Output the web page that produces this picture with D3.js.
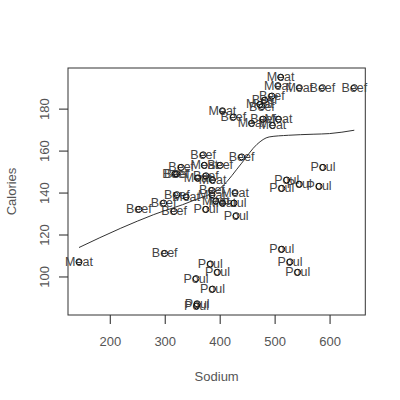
<!DOCTYPE html>
<html><head><meta charset="utf-8">
<script src="https://cdn.jsdelivr.net/npm/d3@7"></script>
<style>body{margin:0;background:#fff}svg{display:block}</style>
</head><body>
<script>
// Hot dog data: type, sodium, calories
const types = ["Beef","Beef","Beef","Beef","Beef","Beef","Beef","Beef","Beef","Beef","Beef","Beef","Beef","Beef","Beef","Beef","Beef","Beef","Beef","Beef",
  "Meat","Meat","Meat","Meat","Meat","Meat","Meat","Meat","Meat","Meat","Meat","Meat","Meat","Meat","Meat","Meat","Meat",
  "Poultry","Poultry","Poultry","Poultry","Poultry","Poultry","Poultry","Poultry","Poultry","Poultry","Poultry","Poultry","Poultry","Poultry","Poultry","Poultry","Poultry"];
const sodium = [495,477,425,322,482,587,370,322,479,375,330,300,386,401,645,440,317,319,298,253,
  458,506,473,545,496,360,387,386,507,393,405,372,144,511,405,428,339,
  430,375,396,383,387,542,359,357,528,513,426,513,358,581,588,522,545];
const calories = [186,181,176,149,184,190,158,139,175,148,152,111,141,153,190,157,131,149,135,132,
  173,191,182,190,172,147,146,139,175,136,179,153,107,195,135,140,138,
  129,132,102,106,94,102,87,99,107,113,135,142,86,143,152,146,144];
// smooth curve
const smoothX = [144,220,280,350,405,440,468,490,525,570,600,645];
const smoothY = [113.8,123,129.5,136,143,154,163,166.5,167.3,167.8,168.1,169.7];
const xTicks = [200,300,400,500,600];
const yTicks = [100,120,140,160,180];

const W=400,H=400, L=68, R=365.3, T=68, B=315;
const svg = d3.select("body").append("svg").attr("width",W).attr("height",H);
const font = "Liberation Sans, Arial, Helvetica, sans-serif";

const pad = (e)=>{const d=(e[1]-e[0])*0.04;return [e[0]-d,e[1]+d];};
const x = d3.scaleLinear().domain(pad(d3.extent(sodium))).range([L,R]);
const y = d3.scaleLinear().domain(pad(d3.extent(calories))).range([B,T]);

// x axis
const gx = svg.append("g").attr("transform",`translate(0,${B})`)
  .call(d3.axisBottom(x).tickValues(xTicks).tickSize(9).tickPadding(13).tickFormat(d3.format("d")));
gx.select(".domain").remove();
gx.selectAll("line").attr("stroke","#222");
gx.selectAll("text").attr("font-family",font).attr("font-size",13).attr("fill","#555");

// y axis
const gy = svg.append("g").attr("transform",`translate(${L},0)`)
  .call(d3.axisLeft(y).tickValues(yTicks).tickSize(9).tickFormat(d3.format("d")));
gy.select(".domain").remove();
gy.selectAll("line").attr("stroke","#222");
gy.selectAll("text").attr("font-family",font).attr("font-size",13).attr("fill","#555")
  .attr("transform","rotate(-90)").attr("x",0).attr("y",-23.5).attr("dy",null)
  .attr("dominant-baseline","central").attr("text-anchor","middle");

// box
svg.append("rect").attr("x",L).attr("y",T).attr("width",R-L).attr("height",B-T)
  .attr("fill","none").attr("stroke","#333").attr("stroke-width",1);

// axis titles
svg.append("text").attr("x",(L+R)/2).attr("y",376).attr("text-anchor","middle")
  .attr("dominant-baseline","central").attr("font-family",font).attr("font-size",13)
  .attr("fill","#555").text("Sodium");
svg.append("text").attr("transform",`translate(11,${(T+B)/2}) rotate(-90)`)
  .attr("text-anchor","middle").attr("dominant-baseline","central")
  .attr("font-family",font).attr("font-size",13).attr("fill","#555").text("Calories");

const idx = d3.range(sodium.length);
const plot = svg.append("g");
// labels
plot.selectAll("text.lab").data(idx).join("text").attr("class","lab")
  .attr("x",i=>x(sodium[i])).attr("y",i=>y(calories[i]))
  .attr("text-anchor","middle").attr("dominant-baseline","central")
  .attr("font-family",font).attr("font-size",12.5).attr("fill","#444")
  .text(i=>types[i].slice(0,4));
// points
plot.selectAll("circle").data(idx).join("circle")
  .attr("cx",i=>x(sodium[i])).attr("cy",i=>y(calories[i])).attr("r",3)
  .attr("fill","none").attr("stroke","#111").attr("stroke-width",1);
// smooth line
const line = d3.line().x(d=>x(d[0])).y(d=>y(d[1])).curve(d3.curveMonotoneX);
plot.append("path").datum(smoothX.map((v,i)=>[v,smoothY[i]])).attr("d",line)
  .attr("fill","none").attr("stroke","#333").attr("stroke-width",1);
</script>
</body></html>
